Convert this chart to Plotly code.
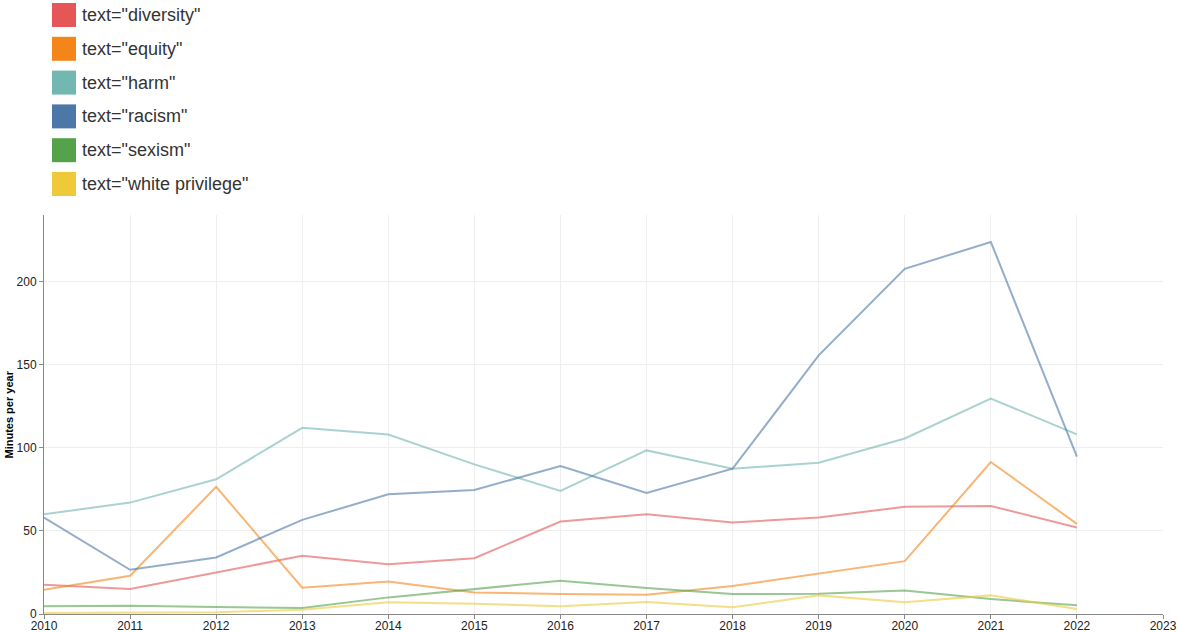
import plotly.graph_objects as go

years = list(range(2010, 2023))

series_names = ['text="diversity"', 'text="equity"', 'text="harm"',
                'text="racism"', 'text="sexism"', 'text="white privilege"']
colors = ["#e45756", "#f58518", "#72b7b2", "#4c78a8", "#54a24b", "#eeca3b"]

diversity = [17.6, 15, 25, 35, 30, 33.6, 55.6, 60, 55, 58, 64.5, 65, 52]
equity = [14.6, 23, 76.5, 15.8, 19.6, 13, 12, 11.6, 16.8, 24.2, 31.8, 91.4, 54.2]
harm = [60, 67, 81, 112, 108, 90, 74, 98.4, 87.4, 91, 105.6, 129.6, 108]
racism = [58, 26.6, 34, 56.6, 72, 74.6, 89, 72.8, 87.4, 155.6, 207.6, 223.8, 94.6]
sexism = [4.6, 5, 4.2, 3.6, 10, 15, 20, 15.6, 12, 12.2, 14.2, 9, 5.2]
white_privilege = [0.6, 0.6, 1, 2.6, 7, 6.2, 4.6, 7.2, 4, 11.2, 7, 11.2, 3]

values = [diversity, equity, harm, racism, sexism, white_privilege]

W, H = 1178, 632
ml, mr, mt, mb = 44, 15, 215, 18
pw = W - ml - mr
ph = H - mt - mb

fig = go.Figure()
for name, col, vals in zip(series_names, colors, values):
    fig.add_trace(go.Scatter(x=years, y=vals, mode="lines", name=name,
                             line=dict(color=col, width=2), opacity=0.6,
                             showlegend=False))

def px_x(p):
    return (p - ml) / pw

def px_y(p):
    return (H - mb - p) / ph

shapes = []
annotations = []
for i, (name, col) in enumerate(zip(series_names, colors)):
    top = 3 + i * 33.8
    shapes.append(dict(type="rect", xref="paper", yref="paper",
                       x0=px_x(52), x1=px_x(76), y0=px_y(top + 24), y1=px_y(top),
                       fillcolor=col, line=dict(width=0), layer="above"))
    annotations.append(dict(xref="paper", yref="paper", x=px_x(80), y=px_y(top + 12),
                            text=name, showarrow=False, xanchor="left", yanchor="middle",
                            font=dict(size=18, color="#333333")))

annotations.append(dict(xref="paper", yref="paper", x=px_x(8), y=0.5,
                        text="<b>Minutes per year</b>", showarrow=False, textangle=-90,
                        xanchor="center", yanchor="middle",
                        font=dict(size=11, color="#000000")))

fig.update_layout(
    width=W, height=H, autosize=False,
    margin=dict(l=ml, r=mr, t=mt, b=mb),
    paper_bgcolor="white", plot_bgcolor="white",
    font=dict(family="Arial, Liberation Sans, sans-serif", size=12, color="#333333"),
    shapes=shapes, annotations=annotations,
    showlegend=False,
)
fig.update_xaxes(range=[2010, 2023], dtick=1, tick0=2010, showgrid=True, gridcolor="#eeeeee",
                 showline=True, linecolor="#888888", linewidth=1, ticks="outside",
                 ticklen=4, tickcolor="#888888", zeroline=False, automargin=False,
                 ticklabelstandoff=-3,
                 tickfont=dict(size=12, color="#222222"))
fig.update_yaxes(range=[0, 240], dtick=50, tick0=0, showgrid=True, gridcolor="#eeeeee",
                 showline=True, linecolor="#888888", linewidth=1, ticks="outside",
                 ticklen=4, tickcolor="#888888", zeroline=False, automargin=False,
                 tickfont=dict(size=12, color="#222222"))

fig.write_html("out.html", config={"responsive": False, "displayModeBar": False})

with open("out.html", "r", encoding="utf-8") as f:
    html = f.read()
html = html.replace("<body>", '<body style="margin:0;overflow:hidden">', 1)
with open("out.html", "w", encoding="utf-8") as f:
    f.write(html)
